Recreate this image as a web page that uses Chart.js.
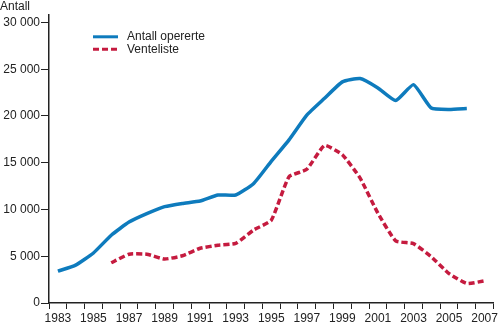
<!DOCTYPE html>
<html>
<head>
<meta charset="utf-8">
<script src="https://cdn.jsdelivr.net/npm/chart.js@4/dist/chart.umd.min.js"></script>
<style>
html,body{margin:0;padding:0;background:#fff;}
canvas{display:block;}
</style>
</head>
<body>
<canvas id="c" width="500" height="322"></canvas>
<script>
const years = ['1983','1984','1985','1986','1987','1988','1989','1990','1991','1992','1993','1994','1995','1996','1997','1998','1999','2000','2001','2002','2003','2004','2005','2006','2007'];
const antallOpererte = [3400,4050,5350,7250,8650,9550,10300,10650,10900,11550,11550,12750,15150,17450,20100,21900,23650,24000,23000,21650,23350,20850,20700,20800,null];
const venteliste = [null,null,null,4300,5220,5220,4700,5050,5850,6180,6380,7800,8850,13500,14300,16850,15850,13350,9600,6650,6350,4950,3150,2080,2380];
const yTickValues = [0,5000,10000,15000,20000,25000,30000];
const seriesNames = ['Antall opererte','Venteliste'];
const yTitle = 'Antall';
const blue = '#0e7bbd';
const red = '#c51b3f';
const FONT = '"Liberation Sans", Arial, Helvetica, sans-serif';
const textColor = '#222';

function fmt(v){return String(v).replace(/\B(?=(\d{3})+(?!\d))/g,' ');}

const extras = {
  id:'extras',
  afterDraw(chart){
    const ctx = chart.ctx;
    ctx.save();
    ctx.fillStyle = textColor;
    ctx.font = '12px ' + FONT;
    ctx.textAlign = 'left';
    ctx.textBaseline = 'alphabetic';
    ctx.fillText(yTitle, 0, 10);
    const items = [
      {name: seriesNames[0], color: blue, dash: [], y: 36.8},
      {name: seriesNames[1], color: red, dash: [6,3], y: 49.2}
    ];
    items.forEach(it=>{
      ctx.beginPath();
      ctx.strokeStyle = it.color;
      ctx.lineWidth = 3;
      ctx.setLineDash(it.dash);
      ctx.lineCap = 'butt';
      ctx.moveTo(93, it.y);
      ctx.lineTo(118, it.y);
      ctx.stroke();
      ctx.setLineDash([]);
      ctx.textBaseline = 'middle';
      ctx.fillStyle = textColor;
      ctx.fillText(it.name, 127, it.y);
    });
    ctx.restore();
  }
};

new Chart(document.getElementById('c'), {
  type:'line',
  data:{
    labels: years,
    datasets:[
      {label: seriesNames[0], data: antallOpererte, borderColor: blue, backgroundColor: blue, borderWidth: 3.5, pointRadius: 0, tension: 0.15, fill:false, borderCapStyle:'butt'},
      {label: seriesNames[1], data: venteliste, borderColor: red, backgroundColor: red, borderWidth: 3.5, borderDash:[6,3], pointRadius: 0, tension: 0.15, fill:false, borderCapStyle:'butt'}
    ]
  },
  options:{
    responsive:false,
    animation:false,
    devicePixelRatio:1,
    layout:{padding:{top:15,right:3,left:0,bottom:0}},
    plugins:{legend:{display:false}, tooltip:{enabled:false}},
    scales:{
      x:{
        type:'category',
        offset:true,
        grid:{display:true, drawOnChartArea:false, drawTicks:true, tickLength:6, offset:true, color:'#222', lineWidth:1},
        border:{display:true, color:'#222', width:1.5},
        ticks:{autoSkip:false, maxRotation:0, minRotation:0, padding:2, color:textColor, font:{family:FONT, size:12},
          callback:function(v,i){ return i%2===0 ? this.getLabelForValue(v) : ''; }},
        afterFit(s){ s.height = 19; }
      },
      y:{
        min:0, max:30800,
        grid:{display:true, drawOnChartArea:false, drawTicks:true, tickLength:8, color:'#222', lineWidth:1},
        border:{display:true, color:'#222', width:1.5},
        ticks:{padding:1, color:textColor, font:{family:FONT, size:12}, callback:(v)=>fmt(v)},
        afterBuildTicks(s){ s.ticks = yTickValues.map(v=>({value:v})); },
        afterFit(s){ s.width = 49; }
      }
    }
  },
  plugins:[extras]
});
</script>
</body>
</html>
